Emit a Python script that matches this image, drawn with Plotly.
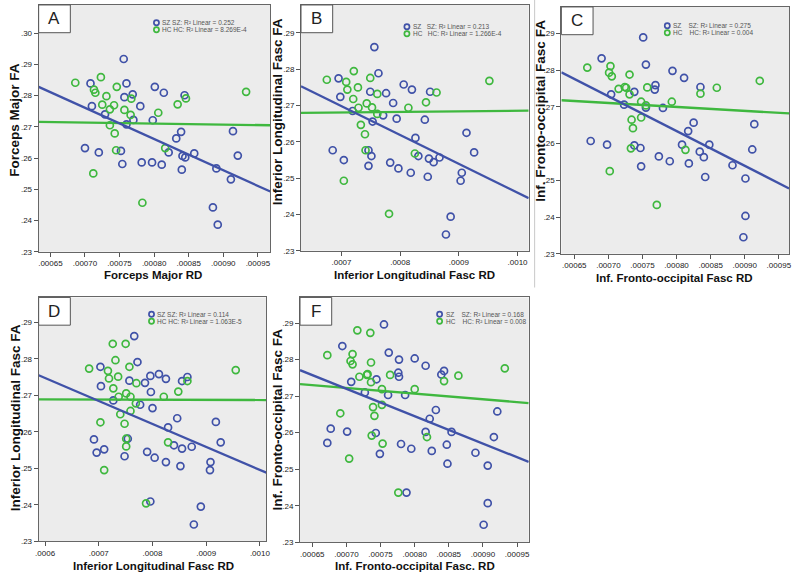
import plotly.graph_objects as go

W, H = 800, 582

# ---------------- Panel A : Forceps Major ----------------
A_sz_x = [0.000708, 0.000710, 0.000700, 0.000720, 0.000729, 0.000756, 0.000760, 0.000757, 0.000769, 0.000770,
          0.000780, 0.000752, 0.000754, 0.000760, 0.000782, 0.000797, 0.000811, 0.000798, 0.000801, 0.000814,
          0.000821, 0.000832, 0.000839, 0.000841, 0.000845, 0.000840, 0.000844, 0.000858, 0.000890, 0.000885,
          0.000892, 0.000911, 0.000914, 0.000921]
A_sz_y = [0.2839, 0.2766, 0.2632, 0.2618, 0.2740, 0.2917, 0.2839, 0.2795, 0.2804, 0.2722,
          0.2766, 0.2623, 0.2581, 0.2708, 0.2586, 0.2586, 0.2579, 0.2721, 0.2828, 0.2809,
          0.2618, 0.2663, 0.2684, 0.2607, 0.2602, 0.2563, 0.2801, 0.2615, 0.2567, 0.2442,
          0.2387, 0.2532, 0.2686, 0.2608]
A_hc_x = [0.000686, 0.000713, 0.000715, 0.000723, 0.000731, 0.000725, 0.000736, 0.000742, 0.000746, 0.000736,
          0.000743, 0.000745, 0.000712, 0.000757, 0.000766, 0.000767, 0.000783, 0.000806, 0.000816, 0.000834,
          0.000846, 0.000933]
A_hc_y = [0.2841, 0.2819, 0.2809, 0.2859, 0.2798, 0.2771, 0.2756, 0.2769, 0.2828, 0.2705,
          0.2679, 0.2625, 0.2551, 0.2754, 0.2738, 0.2790, 0.2457, 0.2745, 0.2632, 0.2772,
          0.2791, 0.2812]
A_fit_sz = [0.2828, 0.2493]
A_fit_hc = [0.2716, 0.2705]

# ---------------- Panel B : Inferior Longitudinal Fasc ----------------
B_sz_x = [0.000756, 0.000695, 0.000698, 0.000719, 0.000685, 0.000704, 0.000763, 0.000749, 0.000753, 0.000746,
          0.000751, 0.000746, 0.000771, 0.000776, 0.000788, 0.000794, 0.000783, 0.000797, 0.000806, 0.000820,
          0.000818, 0.000826, 0.000831, 0.000842, 0.000851, 0.000849, 0.000857, 0.000847, 0.000867, 0.000903,
          0.000905, 0.000913, 0.000926, 0.000886, 0.000878]
B_sz_y = [0.2861, 0.2775, 0.2724, 0.2685, 0.2577, 0.2550, 0.2789, 0.2738, 0.2656, 0.2577,
          0.2561, 0.2534, 0.2673, 0.2734, 0.2707, 0.2664, 0.2543, 0.2527, 0.2758, 0.2744,
          0.2515, 0.2611, 0.2561, 0.2661, 0.2738, 0.2554, 0.2544, 0.2504, 0.2557, 0.2493,
          0.2515, 0.2625, 0.2571, 0.2394, 0.2345]
B_hc_x = [0.000675, 0.000708, 0.000710, 0.000721, 0.000728, 0.000720, 0.000729, 0.000743, 0.000749, 0.000752,
          0.000761, 0.000761, 0.000733, 0.000740, 0.000741, 0.000704, 0.000814, 0.000844, 0.000862, 0.000825,
          0.000781, 0.000952]
B_hc_y = [0.2771, 0.2765, 0.2744, 0.2795, 0.2750, 0.2718, 0.2694, 0.2706, 0.2776, 0.2695,
          0.2732, 0.2677, 0.2647, 0.2621, 0.2577, 0.2493, 0.2694, 0.2709, 0.2736, 0.2568,
          0.2402, 0.2768]
B_fit_sz = [0.2753, 0.2445]
B_fit_hc = [0.2680, 0.2686]

# ---------------- Panel C : Inf. Fronto-occipital Fasc ----------------
C_sz_x = [0.000690, 0.000704, 0.000674, 0.000698, 0.000723, 0.000738, 0.000738, 0.000751, 0.000755, 0.000755,
          0.000747, 0.000748, 0.000769, 0.000768, 0.000780, 0.000774, 0.000790, 0.000794, 0.000811, 0.000808,
          0.000817, 0.000825, 0.000818, 0.000835, 0.000834, 0.000840, 0.000848, 0.000842, 0.000882, 0.000901,
          0.000901, 0.000898, 0.000911, 0.000914]
C_sz_y = [0.2832, 0.2734, 0.2607, 0.2597, 0.2706, 0.2741, 0.2595, 0.2889, 0.2815, 0.2698,
          0.2588, 0.2538, 0.2759, 0.2747, 0.2697, 0.2565, 0.2552, 0.2798, 0.2779, 0.2597,
          0.2634, 0.2657, 0.2546, 0.2754, 0.2578, 0.2563, 0.2597, 0.2509, 0.2541, 0.2505,
          0.2403, 0.2345, 0.2584, 0.2653]
C_hc_x = [0.000669, 0.000701, 0.000703, 0.000705, 0.000715, 0.000724, 0.000726, 0.000731, 0.000731, 0.000748,
          0.000757, 0.000755, 0.000734, 0.000736, 0.000733, 0.000748, 0.000702, 0.000793, 0.000835, 0.000859,
          0.000813, 0.000771, 0.000922]
C_hc_y = [0.2807, 0.2793, 0.2811, 0.2783, 0.2749, 0.2754, 0.2752, 0.2788, 0.2734, 0.2714,
          0.2753, 0.2704, 0.2665, 0.2642, 0.2587, 0.2671, 0.2525, 0.2714, 0.2736, 0.2752,
          0.2583, 0.2433, 0.2771]
C_fit_sz = [0.2794, 0.2478]
C_fit_hc = [0.2718, 0.2682]

# ---------------- Panel D : Inferior Longitudinal Fasc ----------------
D_sz_x = [0.000766, 0.000703, 0.000704, 0.000691, 0.000696, 0.000710, 0.000727, 0.000748, 0.000754, 0.000757,
          0.000772, 0.000777, 0.000786, 0.000796, 0.000797, 0.000800, 0.000790, 0.000804, 0.000812, 0.000825,
          0.000829, 0.000825, 0.000846, 0.000840, 0.000855, 0.000865, 0.000855, 0.000873, 0.000852, 0.000908,
          0.000907, 0.000918, 0.000927, 0.000796, 0.000890, 0.000877]
D_sz_y = [0.2862, 0.2778, 0.2725, 0.2579, 0.2543, 0.2552, 0.2686, 0.2533, 0.2581, 0.2740,
          0.2791, 0.2674, 0.2734, 0.2753, 0.2709, 0.2665, 0.2545, 0.2529, 0.2758, 0.2745,
          0.2612, 0.2517, 0.2637, 0.2563, 0.2739, 0.2750, 0.2554, 0.2559, 0.2506, 0.2517,
          0.2495, 0.2627, 0.2571, 0.2409, 0.2395, 0.2346]
D_hc_x = [0.000682, 0.000717, 0.000719, 0.000726, 0.000731, 0.000736, 0.000727, 0.000737, 0.000750, 0.000757,
          0.000770, 0.000751, 0.000759, 0.000769, 0.000740, 0.000759, 0.000703, 0.000748, 0.000751, 0.000751,
          0.000710, 0.000821, 0.000848, 0.000865, 0.000829, 0.000788, 0.000955]
D_hc_y = [0.2773, 0.2767, 0.2746, 0.2841, 0.2796, 0.2751, 0.2719, 0.2696, 0.2841, 0.2778,
          0.2733, 0.2705, 0.2696, 0.2678, 0.2648, 0.2657, 0.2626, 0.2622, 0.2581, 0.2560,
          0.2495, 0.2696, 0.2710, 0.2739, 0.2571, 0.2404, 0.2769]
D_fit_sz = [0.2755, 0.2488]
D_fit_hc = [0.2689, 0.2687]

# ---------------- Panel F : Inf. Fronto-occipital Fasc. ----------------
F_sz_x = [0.000694, 0.000677, 0.000672, 0.000701, 0.000707, 0.000727, 0.000744, 0.000743, 0.000749, 0.000755,
          0.000762, 0.000761, 0.000776, 0.000777, 0.000777, 0.000786, 0.000780, 0.000795, 0.000800, 0.000816,
          0.000816, 0.000822, 0.000831, 0.000825, 0.000839, 0.000843, 0.000847, 0.000848, 0.000854, 0.000889,
          0.000907, 0.000916, 0.000921, 0.000907, 0.000901, 0.000788]
F_sz_y = [0.2837, 0.2611, 0.2572, 0.2603, 0.2739, 0.2710, 0.2746, 0.2599, 0.2542, 0.2896,
          0.2819, 0.2703, 0.2764, 0.2753, 0.2800, 0.2703, 0.2569, 0.2556, 0.2803, 0.2783,
          0.2602, 0.2638, 0.2662, 0.2550, 0.2759, 0.2769, 0.2567, 0.2515, 0.2602, 0.2545,
          0.2510, 0.2588, 0.2658, 0.2407, 0.2348, 0.2436]
F_hc_x = [0.000672, 0.000691, 0.000706, 0.000709, 0.000709, 0.000716, 0.000719, 0.000730, 0.000731, 0.000735,
          0.000736, 0.000736, 0.000752, 0.000764, 0.000739, 0.000741, 0.000752, 0.000737, 0.000753, 0.000704,
          0.000800, 0.000818, 0.000843, 0.000864, 0.000776, 0.000932]
F_hc_y = [0.2812, 0.2653, 0.2796, 0.2815, 0.2787, 0.2880, 0.2753, 0.2758, 0.2760, 0.2873,
          0.2792, 0.2738, 0.2719, 0.2758, 0.2670, 0.2646, 0.2676, 0.2592, 0.2570, 0.2529,
          0.2719, 0.2588, 0.2741, 0.2756, 0.2436, 0.2776]
F_fit_sz = [0.2771, 0.2520]
F_fit_hc = [0.2733, 0.2681]

# tick values
X_TICKS_5 = [0.00065, 0.00070, 0.00075, 0.00080, 0.00085, 0.00090, 0.00095]
X_TICKS_B = [0.0007, 0.0008, 0.0009, 0.0010]
X_TICKS_D = [0.0006, 0.0007, 0.0008, 0.0009, 0.0010]
Y_TICKS_A = [0.23, 0.24, 0.25, 0.26, 0.27, 0.28, 0.29, 0.30]
Y_TICKS = [0.23, 0.24, 0.25, 0.26, 0.27, 0.28, 0.29]

BLUE = "#4052a8"
GREEN = "#3fb83f"
TXT = "#222222"
SANS = "Liberation Sans, Arial, sans-serif"
NARROW = "Liberation Sans Narrow, Arial Narrow, Liberation Sans, sans-serif"

panels = [
    dict(letter="A", sz=(A_sz_x, A_sz_y), hc=(A_hc_x, A_hc_y), fsz=A_fit_sz, fhc=A_fit_hc,
         box=(35, 5, 269, 254), xr=[0.000633, 0.000968], yr=[0.23, 0.309],
         xt=X_TICKS_5, xfmt=5, yt=Y_TICKS_A,
         xtitle="Forceps Major RD", ytitle="Forceps Major FA",
         xtpos=(150, 277), ytpos=(11, 121),
         leg=(154, 23, 30), l1="SZ SZ: R² Linear = 0.252", l2="HC HC: R² Linear = 8.269E-4"),
    dict(letter="B", sz=(B_sz_x, B_sz_y), hc=(B_hc_x, B_hc_y), fsz=B_fit_sz, fhc=B_fit_hc,
         box=(300, 5, 530, 253), xr=[0.000631, 0.001019], yr=[0.23, 0.2977],
         xt=X_TICKS_B, xfmt=4, yt=Y_TICKS,
         xtitle="Inferior Longitudinal Fasc RD", ytitle="Inferior Longitudinal Fasc FA",
         xtpos=(415, 277), ytpos=(276, 113),
         leg=(407, 27, 34), l1="SZ   SZ: R² Linear = 0.213", l2="HC   HC: R² Linear = 1.266E-4"),
    dict(letter="C", sz=(C_sz_x, C_sz_y), hc=(C_hc_x, C_hc_y), fsz=C_fit_sz, fhc=C_fit_hc,
         box=(563, 7, 793, 256), xr=[0.000631, 0.000965], yr=[0.23, 0.2972],
         xt=X_TICKS_5, xfmt=5, yt=Y_TICKS,
         xtitle="Inf. Fronto-occipital Fasc RD", ytitle="Inf. Fronto-occipital Fasc FA",
         xtpos=(677, 280), ytpos=(541, 112),
         leg=(670, 26, 33), l1="SZ    SZ: R² Linear = 0.275", l2="HC    HC: R² Linear = 0.004"),
    dict(letter="D", sz=(D_sz_x, D_sz_y), hc=(D_hc_x, D_hc_y), fsz=D_fit_sz, fhc=D_fit_hc,
         box=(35, 300, 265, 546), xr=[0.000588, 0.001012], yr=[0.23, 0.2968],
         xt=X_TICKS_D, xfmt=4, yt=Y_TICKS,
         xtitle="Inferior Longitudinal Fasc RD", ytitle="Inferior Longitudinal Fasc FA",
         xtpos=(151, 571), ytpos=(11, 421),
         leg=(149, 317, 324), l1="SZ SZ: R² Linear = 0.114", l2="HC HC: R² Linear = 1.063E-5"),
    dict(letter="F", sz=(F_sz_x, F_sz_y), hc=(F_hc_x, F_hc_y), fsz=F_fit_sz, fhc=F_fit_hc,
         box=(299, 300, 530, 547), xr=[0.000632, 0.000967], yr=[0.23, 0.2970],
         xt=X_TICKS_5, xfmt=5, yt=Y_TICKS,
         xtitle="Inf. Fronto-occipital Fasc. RD", ytitle="Inf. Fronto-occipital Fasc FA",
         xtpos=(415, 571), ytpos=(276, 423),
         leg=(440, 317, 324), l1="SZ    SZ: R² Linear = 0.168", l2="HC    HC: R² Linear = 0.008"),
]


def px(x):
    return x / W


def py(y):
    return 1 - y / H


fig = go.Figure()
layout = dict(width=W, height=H, margin=dict(l=0, r=0, t=0, b=0),
              paper_bgcolor="white", plot_bgcolor="white", showlegend=False)
shapes = []
annotations = []

for i, p in enumerate(panels):
    n = "" if i == 0 else str(i + 1)
    xa, ya = "x" + n, "y" + n
    x0, y0, x1, y1 = p["box"]
    fmt = p["xfmt"]
    layout["xaxis" + n] = dict(
        domain=[px(x0), px(x1)], range=p["xr"], anchor=ya,
        tickvals=p["xt"], ticktext=[("%.*f" % (fmt, v))[1:] for v in p["xt"]],
        ticks="outside", ticklen=4, tickcolor="#555", showgrid=False, zeroline=False,
        showline=True, linecolor="#666", linewidth=1, mirror=True,
        tickfont=dict(family=NARROW, size=8, color=TXT))
    layout["yaxis" + n] = dict(
        domain=[py(y1), py(y0)], range=p["yr"], anchor=xa,
        tickvals=p["yt"], ticktext=[("%.2f" % v)[1:] for v in p["yt"]],
        ticks="outside", ticklen=4, tickcolor="#555", showgrid=False, zeroline=False,
        showline=True, linecolor="#666", linewidth=1, mirror=True,
        tickfont=dict(family=NARROW, size=8, color=TXT))
    # plot background
    shapes.append(dict(type="rect", xref=xa + " domain", yref=ya + " domain",
                       x0=0, x1=1, y0=0, y1=1, fillcolor="#ececec",
                       line=dict(width=0), layer="below"))
    # points
    fig.add_trace(go.Scatter(x=p["sz"][0], y=p["sz"][1], mode="markers", xaxis=xa, yaxis=ya,
                             marker=dict(symbol="circle-open", size=7, color=BLUE, line=dict(width=1.7))))
    fig.add_trace(go.Scatter(x=p["hc"][0], y=p["hc"][1], mode="markers", xaxis=xa, yaxis=ya,
                             marker=dict(symbol="circle-open", size=7, color=GREEN, line=dict(width=1.7))))
    # fit lines over full x range
    fig.add_trace(go.Scatter(x=p["xr"], y=p["fhc"], mode="lines", xaxis=xa, yaxis=ya,
                             line=dict(color=GREEN, width=2.3)))
    fig.add_trace(go.Scatter(x=p["xr"], y=p["fsz"], mode="lines", xaxis=xa, yaxis=ya,
                             line=dict(color=BLUE, width=2.3)))
    # letter box
    shapes.append(dict(type="rect", xref="paper", yref="paper",
                       x0=px(x0), x1=px(x0 + 32), y0=py(y0 + 28), y1=py(y0),
                       fillcolor="white", line=dict(color="#555", width=1)))
    annotations.append(dict(text=p["letter"], xref="paper", yref="paper",
                            x=px(x0 + 16), y=py(y0 + 14), showarrow=False,
                            xanchor="center", yanchor="middle",
                            font=dict(family=SANS, size=17, color="#222")))
    # legend
    lx, ly1, ly2 = p["leg"]
    for yy, col, txt in ((ly1, BLUE, p["l1"]), (ly2, GREEN, p["l2"])):
        shapes.append(dict(type="circle", xref="paper", yref="paper",
                           x0=px(lx - 2.6), x1=px(lx + 2.6), y0=py(yy + 2.6), y1=py(yy - 2.6),
                           line=dict(color=col, width=1.7)))
        annotations.append(dict(text=txt, xref="paper", yref="paper",
                                x=px(lx + 4), y=py(yy), showarrow=False,
                                xanchor="left", yanchor="middle",
                                font=dict(family=SANS, size=6.5, color="#555")))
    # axis titles
    annotations.append(dict(text="<b>%s</b>" % p["xtitle"], xref="paper", yref="paper",
                            x=px(p["xtpos"][0]), y=py(p["xtpos"][1]), showarrow=False,
                            xanchor="center", yanchor="middle",
                            font=dict(family=SANS, size=11.5, color="#111")))
    annotations.append(dict(text="<b>%s</b>" % p["ytitle"], xref="paper", yref="paper",
                            x=px(p["ytpos"][0]), y=py(p["ytpos"][1]), showarrow=False,
                            textangle=-90, xanchor="center", yanchor="middle",
                            font=dict(family=SANS, size=13.5, color="#111")))

# thin separator of the original figure panels
shapes.append(dict(type="line", xref="paper", yref="paper", x0=px(536), x1=px(536),
                   y0=py(290), y1=py(0), line=dict(color="#c8c8c8", width=1)))

layout["shapes"] = shapes
layout["annotations"] = annotations
fig.update_layout(**layout)
fig.write_html("out.html", config={"displayModeBar": False},
               post_script="document.body.style.margin='0';")
